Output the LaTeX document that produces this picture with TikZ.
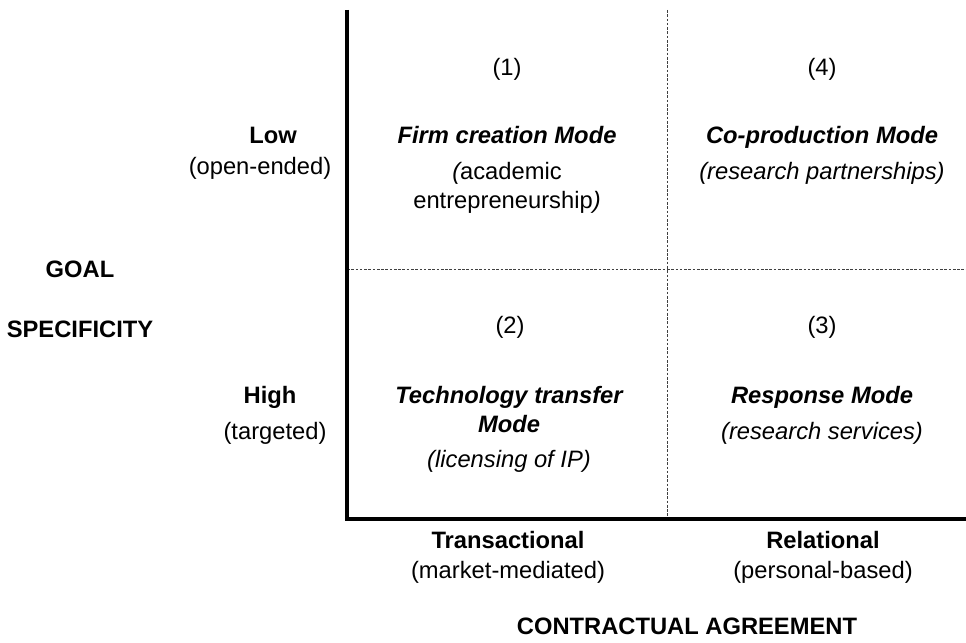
\documentclass[tikz,border=0pt]{standalone}
\usepackage{fontspec}
\setmainfont{Liberation Sans}
\usepackage{tikz}

\begin{document}
\begin{tikzpicture}[x=0.75pt,y=-0.75pt,font=\fontsize{17.8}{20}\selectfont,
  every node/.style={inner sep=0pt, text height=0.74em, text depth=0.2em},
  axis/.style={black, line width=2.6pt},
  grid/.style={black!75, line width=0.7pt, dash pattern=on 2pt off 1.2pt},
  mode/.style={font=\fontsize{17.8}{20}\selectfont\bfseries\itshape},
  sub/.style={font=\fontsize{17.8}{20}\selectfont\itshape},
  head/.style={font=\fontsize{17.8}{20}\selectfont\bfseries}]
\useasboundingbox (0,0) rectangle (966,642);
\coordinate (top) at (347,10);
\coordinate (o) at (347,519);
\coordinate (end) at (966,519);
\coordinate (midtop) at (667,10);
\coordinate (midbot) at (667,519);
\coordinate (midleft) at (347,269);
\coordinate (midright) at (966,269);
\draw [grid] (midtop) -- (midbot);
\draw [grid] (midleft) -- (midright);
\draw [axis] (top) -- (o) -- (end);
% quadrant 1
\node (n1) at (507,72) {(1)};
\node [mode] (firm) at (507,140) {Firm creation Mode};
\node (acad) at (507,176) {{\itshape(}academic};
\node (entr) at (507,205) {entrepreneurship{\itshape)}};
% quadrant 4
\node (n4) at (822,72) {(4)};
\node [mode] (coprod) at (822,140) {Co-production Mode};
\node [sub] (partner) at (822,176) {(research partnerships)};
% quadrant 2
\node (n2) at (510,330) {(2)};
\node [mode] (tech) at (509,400) {Technology transfer};
\node [mode] (techmode) at (509,429) {Mode};
\node [sub] (lic) at (509,464) {(licensing of IP)};
% quadrant 3
\node (n3) at (822,330) {(3)};
\node [mode] (resp) at (822,400) {Response Mode};
\node [sub] (serv) at (822,436) {(research services)};
% goal specificity axis
\node [head] (low) at (273,140) {Low};
\node (open) at (260,171) {(open-ended)};
\node [head] (high) at (270,400) {High};
\node (targ) at (275,436) {(targeted)};
\node [head] (goal) at (80,274) {GOAL};
\node [head] (spec) at (80,334) {SPECIFICITY};
% contractual agreement axis
\node [head] (trans) at (508,545) {Transactional};
\node (market) at (508,575) {(market-mediated)};
\node [head] (rel) at (823,545) {Relational};
\node (pers) at (823,575) {(personal-based)};
\node [head] (contract) at (687,631) {CONTRACTUAL AGREEMENT};
\end{tikzpicture}
\end{document}
